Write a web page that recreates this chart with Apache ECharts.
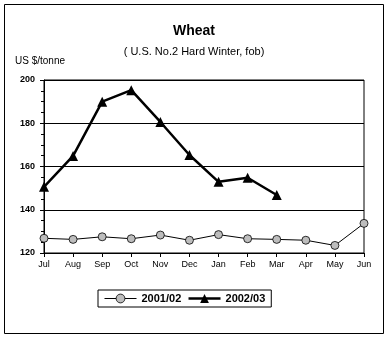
<!DOCTYPE html>
<html><head><meta charset="utf-8">
<script src="https://cdn.jsdelivr.net/npm/echarts@6/dist/echarts.min.js"></script>
<style>html,body{margin:0;padding:0;background:#fff}#c{width:388px;height:340px}</style>
</head><body><div id="c"></div>
<script>
const months = ['Jul','Aug','Sep','Oct','Nov','Dec','Jan','Feb','Mar','Apr','May','Jun'];
const s2001 = [126.8,126.3,127.5,126.6,128.3,125.9,128.5,126.6,126.3,125.9,123.5,133.7];
const s2002 = [150.6,164.9,190,195.3,180.6,165.3,152.9,154.8,146.8,null,null,null];
const yTicks = [120,140,160,180,200];

const chart = echarts.init(document.getElementById('c'), null, {renderer:'canvas'});
const F = 'Arial, "Liberation Sans", sans-serif';
chart.setOption({
  animation:false,
  backgroundColor:'#fff',
  graphic:[
    {type:'rect', shape:{x:4.5,y:4.5,width:379,height:329}, style:{fill:null, stroke:'#000', lineWidth:1}},
    {type:'text', left:15, top:56, style:{text:'US $/tonne', font:'10px '+F, fill:'#000'}}
  ],
  title:{
    text:'Wheat', subtext:'( U.S. No.2 Hard Winter, fob)',
    left:'center', top:19, itemGap:8,
    textStyle:{fontFamily:F, fontSize:14, fontWeight:'bold', color:'#000'},
    subtextStyle:{fontFamily:F, fontSize:11, color:'#000'}
  },
  legend:{
    bottom:33, left:98,
    itemWidth:32, itemHeight:11, itemGap:6,
    padding:[3,6], borderColor:'#000', borderWidth:1,
    textStyle:{fontFamily:F, fontSize:11, fontWeight:'bold', color:'#000'},
    data:[
      {name:'2001/02', itemStyle:{color:'#bdbdbd', borderColor:'#000', borderWidth:0.8}, lineStyle:{color:'#000', width:1}},
      {name:'2002/03', itemStyle:{color:'#000'}, lineStyle:{color:'#000', width:2.5}}
    ]
  },
  grid:{left:44, right:24, top:80, bottom:87, show:true, borderColor:'#000', borderWidth:1},
  xAxis:{
    type:'category', data:months, boundaryGap:false,
    axisLine:{lineStyle:{color:'#000'}},
    axisTick:{show:true, alignWithLabel:true, length:4, inside:false, lineStyle:{color:'#000'}},
    axisLabel:{fontFamily:F, fontSize:9, color:'#000', margin:7, interval:0}
  },
  yAxis:{
    type:'value', min:120, max:200, interval:20,
    axisLine:{show:true, lineStyle:{color:'#000'}},
    axisTick:{show:true, length:4, lineStyle:{color:'#000'}},
    minorTick:{show:true, splitNumber:4, length:3, lineStyle:{color:'#000'}},
    splitLine:{show:true, lineStyle:{color:'#000', width:1}},
    axisLabel:{fontFamily:F, fontSize:9, fontWeight:'bold', color:'#000', margin:9}
  },
  series:[
    {name:'2001/02', type:'line', data:s2001, symbol:'circle', symbolSize:8,
     lineStyle:{color:'#000', width:1}, itemStyle:{color:'#bdbdbd', borderColor:'#000', borderWidth:0.8}},
    {name:'2002/03', type:'line', data:s2002, symbol:'triangle', symbolSize:10,
     lineStyle:{color:'#000', width:2.5}, itemStyle:{color:'#000'}}
  ]
});
</script></body></html>
